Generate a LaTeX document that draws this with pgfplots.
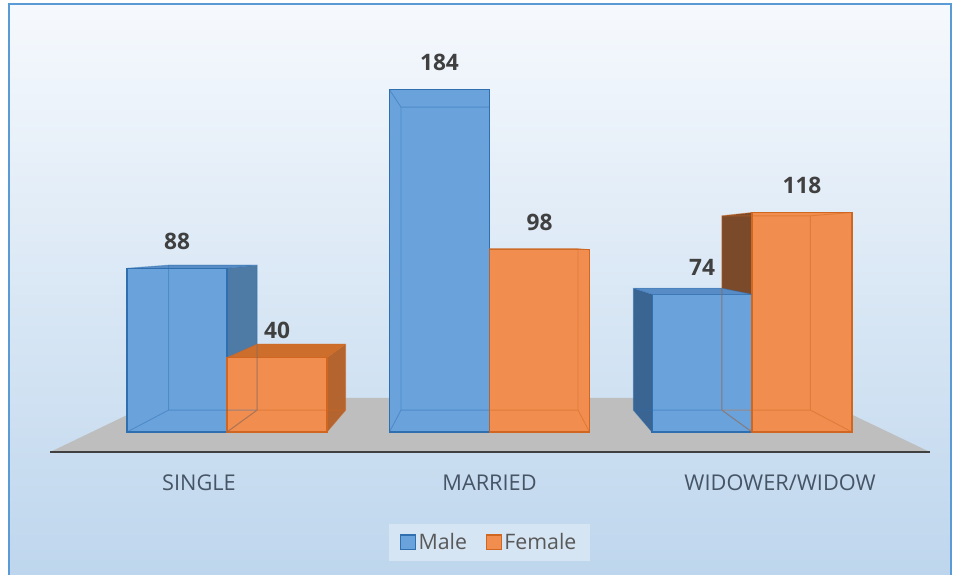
\documentclass[border=0pt]{standalone}
\usepackage{fontspec}
\setmainfont{Open Sans}
\usepackage{pgfplots}
\usepackage{pgfplotstable}
\pgfplotsset{compat=1.18}

\definecolor{bgtop}{RGB}{246,249,253}
\definecolor{bgmid}{RGB}{214,229,244}
\definecolor{bgbot}{RGB}{190,214,237}
\definecolor{framecol}{RGB}{91,155,213}
\definecolor{floorgray}{RGB}{190,190,190}
\definecolor{floorline}{RGB}{64,64,64}
\definecolor{bluefront}{RGB}{106,163,220}
\definecolor{blueedge}{RGB}{47,111,176}
\definecolor{blueside}{RGB}{78,122,166}
\definecolor{bluesidedk}{RGB}{58,100,145}
\definecolor{bluetop}{RGB}{88,140,198}
\definecolor{orfront}{RGB}{240,141,79}
\definecolor{oredge}{RGB}{208,102,31}
\definecolor{orside}{RGB}{180,100,47}
\definecolor{orsidedk}{RGB}{122,74,42}
\definecolor{ortop}{RGB}{205,110,45}
\definecolor{labelcol}{RGB}{64,64,64}
\definecolor{catcol}{RGB}{70,85,102}
\definecolor{legendfill}{RGB}{214,229,243}
\definecolor{legendtext}{RGB}{89,89,89}

% marital status by sex
\pgfplotstableread{
pos male female
0   88   40
1   184  98
2   74   118
}\counts

\begin{document}
\begin{tikzpicture}
\begin{axis}[
  width=718.5bp, height=431.25bp, scale only axis,
  xmin=-0.8648, xmax=2.7848, ymin=-76.88, ymax=232.26,
  axis lines=none, clip=false,
  unbounded coords=jump,
  /pgf/number format/assume math mode=true,
  legend style={at={(axis cs:1.0,-59.4)}, anchor=center, draw=none,
    fill=legendfill, font=\fontsize{16bp}{19bp}\selectfont, text=legendtext,
    inner xsep=8bp, inner ysep=5bp, legend columns=2,
    /tikz/every even column/.append style={column sep=12bp}},
  wire/.style={forget plot, draw=#1, draw opacity=0.45, line width=0.7bp},
  face/.style={forget plot, fill=#1, draw=none},
  datalabel/.style={nodes near coords, every node near coord/.append style={
    font=\bfseries\fontsize{17bp}{20bp}\selectfont, text=labelcol,
    anchor=center, yshift=20.25bp}},
]
% background and frame
\fill[white] (rel axis cs:0,0) rectangle (rel axis cs:1,1);
\path[top color=bgtop, middle color=bgmid, bottom color=bgbot]
  (axis cs:-0.8305,-76.88) rectangle (axis cs:2.758,230.1);
\draw[framecol, line width=2bp] (axis cs:-0.8305,-76.88) -- (axis cs:-0.8305,230.1)
  -- (axis cs:2.758,230.1) -- (axis cs:2.758,-76.88);

% floor
\addplot[face=floorgray] coordinates {(-0.674,-10.75) (2.678,-10.75) (2.248,18.29) (-0.2455,18.29)} -- cycle;
\addplot[forget plot, draw=floorline, line width=2bp] coordinates {(-0.674,-10.75) (2.678,-10.75)};

% side and top faces behind the fronts
\addplot[face=blueside] coordinates {(0,0) (0,88) (0.115,89.69) (0.115,11.81)} -- cycle;
\addplot[face=bluetop] coordinates {(-0.381,88) (0,88) (0.115,89.69) (-0.2222,89.69)} -- cycle;
\addplot[face=orsidedk] coordinates {(2,0) (2,118) (1.885,116.24) (1.885,11.81)} -- cycle;

% male fronts
\addplot[forget plot, ybar, bar width=0.381, bar shift=0pt, fill=bluefront,
  draw=blueedge, line width=1bp, datalabel]
  table[x expr=\thisrow{pos}-0.1905, y=male] {\counts};

\addplot[face=bluesidedk] coordinates {(1.619,0) (1.619,74) (1.5478,77.30) (1.5478,11.81)} -- cycle;
\addplot[face=bluetop] coordinates {(1.619,74) (2,74) (1.885,77.30) (1.5478,77.30)} -- cycle;
\addplot[face=orside] coordinates {(0.381,0) (0.381,40) (0.4522,47.21) (0.4522,11.81)} -- cycle;
\addplot[face=ortop] coordinates {(0,40) (0.381,40) (0.4522,47.21) (0.115,47.21)} -- cycle;

% female fronts
\addplot[forget plot, ybar, bar width=0.381, bar shift=0pt, fill=orfront,
  draw=oredge, line width=1bp, datalabel]
  table[x expr=\thisrow{pos}+0.1905, y=female] {\counts};

\addplot[face=ortop] coordinates {(1,98) (1.381,98) (1.3372,98.54) (1,98.54)} -- cycle;

% edges seen through the translucent boxes
\addplot[wire=blueedge] coordinates {(-0.2222,11.81) (0.115,11.81) (0.115,89.69) (-0.2222,89.69) (-0.2222,11.81)
  (0,nan) (-0.381,0) (-0.2222,11.81) (0,nan) (0,0) (0.115,11.81)
  (0,nan) (-0.381,88) (-0.2222,89.69) (0,nan) (0,88) (0.115,89.69)};
\addplot[wire=oredge] coordinates {(0.115,11.81) (0.4522,11.81) (0.4522,47.21) (0.115,47.21) (0.115,11.81)
  (0,nan) (0,0) (0.115,11.81) (0,nan) (0.381,0) (0.4522,11.81)
  (0,nan) (0,40) (0.115,47.21) (0,nan) (0.381,40) (0.4522,47.21)};
\addplot[wire=blueedge] coordinates {(0.6628,11.81) (1,11.81) (1,174.65) (0.6628,174.65) (0.6628,11.81)
  (0,nan) (0.619,0) (0.6628,11.81) (0,nan) (1,0) (1,11.81)
  (0,nan) (0.619,184) (0.6628,174.65) (0,nan) (1,184) (1,174.65)};
\addplot[wire=oredge] coordinates {(1,11.81) (1.3372,11.81) (1.3372,98.54) (1,98.54) (1,11.81)
  (0,nan) (1,0) (1,11.81) (0,nan) (1.381,0) (1.3372,11.81)
  (0,nan) (1,98) (1,98.54) (0,nan) (1.381,98) (1.3372,98.54)};
\addplot[wire=blueedge] coordinates {(1.5478,11.81) (1.885,11.81) (1.885,77.30) (1.5478,77.30) (1.5478,11.81)
  (0,nan) (1.619,0) (1.5478,11.81) (0,nan) (2,0) (1.885,11.81)
  (0,nan) (1.619,74) (1.5478,77.30) (0,nan) (2,74) (1.885,77.30)};
\addplot[wire=oredge] coordinates {(1.885,11.81) (2.2222,11.81) (2.2222,116.24) (1.885,116.24) (1.885,11.81)
  (0,nan) (2,0) (1.885,11.81) (0,nan) (2.381,0) (2.2222,11.81)
  (0,nan) (2,118) (1.885,116.24) (0,nan) (2.381,118) (2.2222,116.24)};

% category labels
\node[font=\fontsize{16.3bp}{19bp}\selectfont, text=catcol] at (axis cs:-0.107,-27.4) {SINGLE};
\node[font=\fontsize{16.3bp}{19bp}\selectfont, text=catcol] at (axis cs:1.0,-27.4) {MARRIED};
\node[font=\fontsize{16.3bp}{19bp}\selectfont, text=catcol] at (axis cs:2.107,-27.4) {WIDOWER/WIDOW};

% legend
\addlegendimage{legend image code/.code={\draw[fill=bluefront, draw=blueedge, line width=0.8bp] (0bp,-5.6bp) rectangle (11.2bp,5.6bp);}}
\addlegendentry{Male}
\addlegendimage{legend image code/.code={\draw[fill=orfront, draw=oredge, line width=0.8bp] (0bp,-5.6bp) rectangle (11.2bp,5.6bp);}}
\addlegendentry{Female}
\end{axis}
\end{tikzpicture}
\end{document}
